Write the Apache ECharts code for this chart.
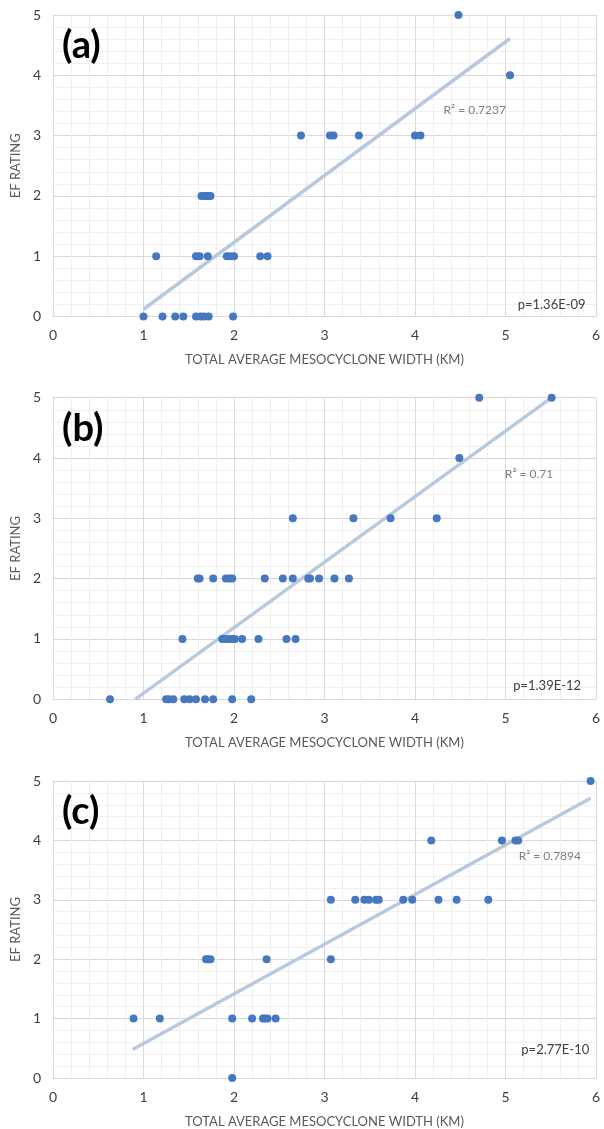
<!DOCTYPE html>
<html>
<head>
<meta charset="utf-8">
<script src="https://cdn.jsdelivr.net/npm/echarts@6/dist/echarts.min.js"></script>
<style>
html,body{margin:0;padding:0;background:#fff;}
#chart{width:604px;height:1129px;}
</style>
</head>
<body>
<div id="chart"></div>
<script>
// panel (a)
var aX = [4.48, 5.05, 2.74, 3.06, 3.10, 3.38, 4.00, 4.06,
	1.64, 1.67, 1.70, 1.72, 1.74,
	1.14, 1.58, 1.62, 1.71, 1.92, 1.96, 2.00, 2.29, 2.37,
	1.00, 1.21, 1.35, 1.44, 1.58, 1.63, 1.67, 1.72, 1.99];
var aY = [5, 4, 3, 3, 3, 3, 3, 3,
	2, 2, 2, 2, 2,
	1, 1, 1, 1, 1, 1, 1, 1, 1,
	0, 0, 0, 0, 0, 0, 0, 0, 0];
var aTrend = [[1.00, 0.12], [5.05, 4.61]];

// panel (b)
var bX = [4.71, 5.51, 4.49, 2.65, 3.32, 3.73, 4.24,
	1.60, 1.62, 1.77, 1.91, 1.95, 1.98, 2.34, 2.54, 2.65, 2.82, 2.84, 2.94, 3.11, 3.27,
	1.43, 1.87, 1.91, 1.95, 1.99, 2.01, 2.09, 2.27, 2.58, 2.68,
	0.63, 1.25, 1.28, 1.33, 1.45, 1.51, 1.58, 1.68, 1.77, 1.98, 2.19];
var bY = [5, 5, 4, 3, 3, 3, 3,
	2, 2, 2, 2, 2, 2, 2, 2, 2, 2, 2, 2, 2, 2,
	1, 1, 1, 1, 1, 1, 1, 1, 1, 1,
	0, 0, 0, 0, 0, 0, 0, 0, 0, 0, 0];
var bTrend = [[0.91, 0], [5.51, 5.0]];

// panel (c)
var cX = [5.94, 4.18, 4.96, 5.11, 5.14,
	3.07, 3.34, 3.44, 3.49, 3.57, 3.60, 3.87, 3.97, 4.26, 4.46, 4.81,
	1.69, 1.71, 1.74, 2.36, 3.07,
	0.89, 1.18, 1.98, 2.20, 2.32, 2.34, 2.37, 2.46,
	1.98];
var cY = [5, 4, 4, 4, 4,
	3, 3, 3, 3, 3, 3, 3, 3, 3, 3, 3,
	2, 2, 2, 2, 2,
	1, 1, 1, 1, 1, 1, 1, 1,
	0];
var cTrend = [[0.88, 0.48], [5.94, 4.71]];

var panelNames = ['(a)', '(b)', '(c)'];
var r2Labels = ['R² = 0.7237', 'R² = 0.71', 'R² = 0.7894'];
var pLabels = ['p=1.36E-09', 'p=1.39E-12', 'p=2.77E-10'];
var xTitle = 'TOTAL AVERAGE MESOCYCLONE WIDTH (KM)';
var yTitle = 'EF RATING';

var FONT = 'Lato, "Open Sans", sans-serif';
var gridTops = [15, 397.7, 781];
var gridH = 301.5;

function pairs(xs, ys) {
	var out = [];
	for (var i = 0; i < xs.length; i++) out.push([xs[i], ys[i]]);
	return out;
}

var xs = [aX, bX, cX], ys = [aY, bY, cY], trends = [aTrend, bTrend, cTrend];
var grids = [], xAxes = [], yAxes = [], series = [], graphics = [];

for (var i = 0; i < 3; i++) {
	grids.push({left: 53, right: 8, top: gridTops[i], height: gridH});
	xAxes.push({
		type: 'value', gridIndex: i, min: 0, max: 6, interval: 1,
		name: xTitle, nameLocation: 'middle', nameGap: 37,
		nameTextStyle: {color: '#595959', fontSize: 13, fontFamily: FONT},
		axisLine: {show: true, lineStyle: {color: '#d9d9d9'}},
		axisTick: {show: false},
		axisLabel: {color: '#404040', fontSize: 14, fontFamily: FONT, margin: 12},
		splitLine: {show: true, lineStyle: {color: '#d9d9d9'}},
		minorTick: {show: false, splitNumber: 5},
		minorSplitLine: {show: true, lineStyle: {color: '#efefef'}}
	});
	yAxes.push({
		type: 'value', gridIndex: i, min: 0, max: 5, interval: 1,
		name: yTitle, nameLocation: 'middle', nameGap: 28, nameRotate: 90,
		nameTextStyle: {color: '#595959', fontSize: 13, fontFamily: FONT},
		axisLine: {show: true, lineStyle: {color: '#d9d9d9'}},
		axisTick: {show: false},
		axisLabel: {color: '#404040', fontSize: 14, fontFamily: FONT, margin: 12},
		splitLine: {show: true, lineStyle: {color: '#d9d9d9'}},
		minorTick: {show: false, splitNumber: 5},
		minorSplitLine: {show: true, lineStyle: {color: '#efefef'}}
	});
	series.push({
		type: 'line', xAxisIndex: i, yAxisIndex: i,
		data: trends[i], symbol: 'none', silent: true,
		lineStyle: {color: '#b8c9de', width: 3.5}, z: 2
	});
	series.push({
		type: 'scatter', xAxisIndex: i, yAxisIndex: i,
		data: pairs(xs[i], ys[i]), symbolSize: 8,
		itemStyle: {color: '#4677bf', opacity: 1}, z: 3
	});
	graphics.push({
		type: 'text', left: 62, top: gridTops[i] + 12, z: 10,
		style: {text: panelNames[i], font: 'bold 38px ' + FONT, fill: '#000'}
	});
}

var option = {
	animation: false,
	grid: grids,
	xAxis: xAxes,
	yAxis: yAxes,
	series: series,
	graphic: graphics
};

var myChart = echarts.init(document.getElementById('chart'));
myChart.setOption(option);

// R² and p labels sit at fixed spots of each plot, placed in data space
var r2Pos = [[4.66, 3.42], [5.26, 3.73], [5.49, 3.74]];
var pPos = [[5.51, 0.19], [5.46, 0.23], [5.55, 0.48]];
var extra = [];
for (var k = 0; k < 3; k++) {
	var r = myChart.convertToPixel({gridIndex: k}, r2Pos[k]);
	var p = myChart.convertToPixel({gridIndex: k}, pPos[k]);
	extra.push({type: 'text', x: r[0], y: r[1], z: 10,
		style: {text: r2Labels[k], font: '12px ' + FONT, fill: '#7f7f7f', align: 'center', verticalAlign: 'middle'}});
	extra.push({type: 'text', x: p[0], y: p[1], z: 10,
		style: {text: pLabels[k], font: '13px ' + FONT, fill: '#404040', align: 'center', verticalAlign: 'middle'}});
}
myChart.setOption({graphic: graphics.concat(extra)});
</script>
</body>
</html>
